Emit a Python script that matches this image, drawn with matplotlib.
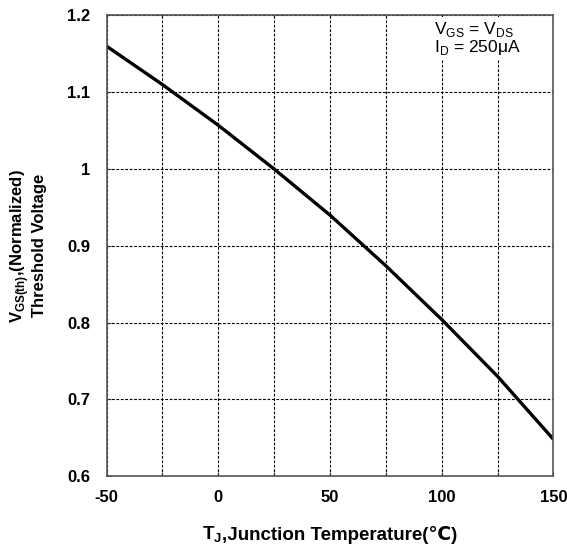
import numpy as np
import matplotlib
matplotlib.use("Agg")
import matplotlib.pyplot as plt

# junction temperature (C) and normalized threshold voltage
temp = [-50, -25, 0, 25, 50, 75, 100, 125, 150]
vth_norm = [1.160, 1.110, 1.057, 1.000, 0.940, 0.874, 0.804, 0.730, 0.648]

x_ticks = [-50, 0, 50, 100, 150]
x_grid = [-50, -25, 0, 25, 50, 75, 100, 125, 150]
y_ticks = [0.6, 0.7, 0.8, 0.9, 1.0, 1.1, 1.2]
y_labels = ["0.6", "0.7", "0.8", "0.9", "1", "1.1", "1.2"]

plt.rcParams["font.family"] = ["Liberation Sans", "DejaVu Sans"]
plt.rcParams["mathtext.fontset"] = "custom"
plt.rcParams["mathtext.rm"] = "Liberation Sans"
plt.rcParams["mathtext.bf"] = "Liberation Sans:bold"
plt.rcParams["axes.unicode_minus"] = False

W, H = 567, 553
fig = plt.figure(figsize=(W / 100, H / 100), dpi=100)
ax = fig.add_axes([0.188, 0.139, 0.788, 0.833])

ax.plot(temp, vth_norm, color="black", lw=2.4, solid_capstyle="butt")

ax.set_xlim(-50, 150)
ax.set_ylim(0.6, 1.2)
ax.set_xticks(x_grid, minor=True)
ax.set_xticks(x_ticks)
ax.set_yticks(y_ticks)
ax.set_yticklabels(y_labels)
ax.grid(True, which="both", color="black", linestyle=(0, (2.5, 1.5)), lw=0.8)
ax.tick_params(which="both", direction="in", length=3, width=0.8, colors="#333333",
               labelcolor="black", labelsize=12)
ax.tick_params(axis="x", pad=10)
ax.tick_params(axis="y", pad=12)
for lab in ax.get_xticklabels() + ax.get_yticklabels():
    lab.set_fontweight("bold")
for s in ax.spines.values():
    s.set_color("#555555")
    s.set_linewidth(1.2)

ax.set_ylabel(r"V$_\mathbf{GS(th)}$,(Normalized)" + "\nThreshold Voltage",
              fontsize=12, fontweight="bold", linespacing=1.1)
ax.yaxis.set_label_coords(-0.134, 0.5)

ax.text(0.733, 0.99, r"V$_\mathrm{GS}$ = V$_\mathrm{DS}$" + "\n" + r"I$_\mathrm{D}$ = 250μA",
        transform=ax.transAxes, ha="left", va="top", multialignment="left",
        fontsize=12.5, linespacing=0.9, zorder=2,
        bbox=dict(facecolor="white", edgecolor="none", pad=2))

# x label in two pieces: mathtext subscript + plain text (for the ℃ glyph fallback)
y_base = 1 - 540 / H
t1 = fig.text(0, y_base, r"T$_\mathbf{J}$", fontsize=13.5, fontweight="bold", va="baseline")
t2 = fig.text(0, y_base, ",Junction Temperature(℃)", fontsize=13.5, fontweight="bold",
              va="baseline")
fig.canvas.draw()
r = fig.canvas.get_renderer()
w1 = t1.get_window_extent(r).width / W
w2 = t2.get_window_extent(r).width / W
x0 = (107 + 553) / 2 / W - (w1 + w2) / 2
t1.set_x(x0)
t2.set_x(x0 + w1)

fig.savefig("out.png", dpi=100)
